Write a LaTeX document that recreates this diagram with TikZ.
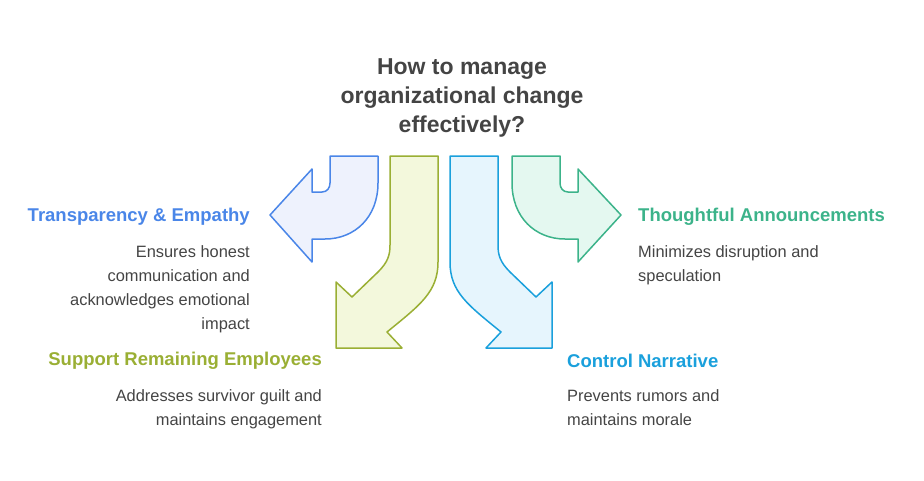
\documentclass[tikz,border=0pt]{standalone}
\usepackage{fontspec}
\setmainfont{Liberation Sans}
\begin{document}
\begin{tikzpicture}[x=1pt,y=-1pt,
  ttl/.style={font=\fontsize{23}{29}\selectfont\bfseries,text=txt,align=center},
  hd/.style={font=\fontsize{18.5}{24}\selectfont\bfseries,inner sep=0pt},
  bd/.style={font=\fontsize{16.4}{24}\selectfont,text=txt,inner sep=0pt},
  arr/.style={line width=1.5pt,line join=round}]
\definecolor{txt}{HTML}{444444}
\definecolor{cb}{HTML}{4A86E8}\definecolor{fb}{HTML}{EEF2FD}
\definecolor{cg}{HTML}{3CB38A}\definecolor{fg}{HTML}{E4F8F0}
\definecolor{co}{HTML}{9AAF34}\definecolor{fo}{HTML}{F3F8DC}
\definecolor{cc}{HTML}{1AA0DC}\definecolor{fc}{HTML}{E6F5FD}
\useasboundingbox (0,0) rectangle (924,480);
\node[ttl] (title) at (462,98) {How to manage\\organizational change\\effectively?};
% blue
\draw[arr,draw=cb,fill=fb] (330,156)--(378,156)--(378,183) .. controls (378,217) and (355,239) .. (325,239) -- (312,239) -- (312,262) -- (270,215) -- (312,169) -- (312,192) -- (322,192) .. controls (327,192) and (330,188) .. (330,183) -- cycle;
% green
\draw[arr,draw=cg,fill=fg] (560,156)--(512,156)--(512,183) .. controls (512,217) and (535,239) .. (565,239) -- (578,239) -- (578,262) -- (621,215) -- (578,169) -- (578,192) -- (568,192) .. controls (563,192) and (560,188) .. (560,183) -- cycle;
% olive
\draw[arr,draw=co,fill=fo] (390,156)--(438,156)--(438,262) .. controls (438,292) and (420,305) .. (387,332) -- (402,348) -- (336,348) -- (336,282) -- (352,297) -- (378,272) .. controls (388,262) and (390,255) .. (390,245) -- cycle;
% cyan
\draw[arr,draw=cc,fill=fc] (498,156)--(450,156)--(450,262) .. controls (450,292) and (468,305) .. (501,332) -- (486,348) -- (552,348) -- (552,282) -- (536,297) -- (510,272) .. controls (500,262) and (498,255) .. (498,245) -- cycle;
% texts
\node[hd,text=cb,anchor=east] (h1) at (250,217) {Transparency \& Empathy};
\node[bd,anchor=north east,align=right] (b1) at (250,245) {Ensures honest\\communication and\\acknowledges emotional\\impact};
\node[hd,text=cg,anchor=west] (h2) at (638,217) {Thoughtful Announcements};
\node[bd,anchor=north west,align=left] (b2) at (638,245) {Minimizes disruption and\\speculation};
\node[hd,text=co,anchor=east] (h3) at (322,361) {Support Remaining Employees};
\node[bd,anchor=north east,align=right] (b3) at (322,389) {Addresses survivor guilt and\\maintains engagement};
\node[hd,text=cc,anchor=west] (h4) at (567,361) {Control Narrative};
\node[bd,anchor=north west,align=left] (b4) at (567,389) {Prevents rumors and\\maintains morale};
\end{tikzpicture}
\end{document}
